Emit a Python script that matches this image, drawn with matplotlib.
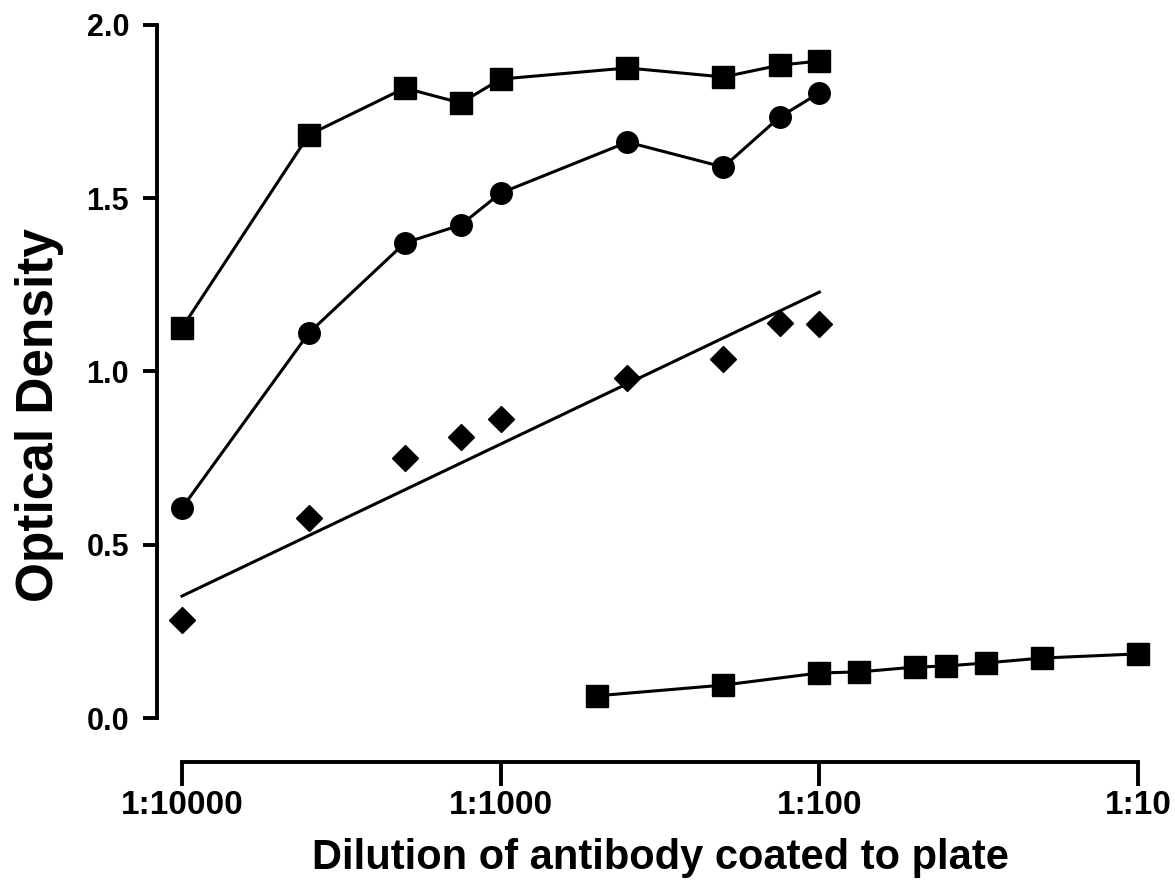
import numpy as np
import matplotlib
matplotlib.use('Agg')
import matplotlib.pyplot as plt

plt.rcParams['font.family'] = ['Liberation Sans', 'DejaVu Sans']
plt.rcParams['font.weight'] = 'bold'

# antibody concentration (fraction), 1:10000 ... 1:100
conc = [1e-4, 2.5e-4, 5e-4, 7.5e-4, 1e-3, 2.5e-3, 5e-3, 7.5e-3, 1e-2]
od_squares = [1.126, 1.683, 1.818, 1.775, 1.844, 1.876, 1.850, 1.884, 1.896]
od_circles = [0.606, 1.111, 1.371, 1.423, 1.515, 1.662, 1.590, 1.734, 1.804]
od_diamonds = [0.283, 0.577, 0.750, 0.811, 0.863, 0.981, 1.036, 1.140, 1.137]
# straight line drawn through the diamonds (ends)
fit_conc = [1e-4, 1e-2]
fit_od = [0.352, 1.229]

# low series, 1:500 ... 1:10
conc_low = [2e-3, 5e-3, 1e-2, 1.333e-2, 2e-2, 2.5e-2, 3.333e-2, 5e-2, 1e-1]
od_low = [0.064, 0.095, 0.130, 0.133, 0.147, 0.150, 0.159, 0.173, 0.185]

xticks = [1e-4, 1e-3, 1e-2, 1e-1]
xticklabels = ['1:10000', '1:1000', '1:100', '1:10']
yticks = [0.0, 0.5, 1.0, 1.5, 2.0]

fig = plt.figure(figsize=(11.75, 8.96), dpi=100)
ax = fig.add_axes([182/1175, 178/896, 956/1175, 693/896])

lw = 2.2
ms = 15.5
ax.plot(conc, od_squares, '-', color='black', lw=lw, marker='s', ms=ms, clip_on=False)
ax.plot(conc, od_circles, '-', color='black', lw=lw, marker='o', ms=ms, clip_on=False)
ax.plot(conc, od_diamonds, ls='none', color='black', marker='D', ms=13, clip_on=False)
ax.plot(fit_conc, fit_od, '-', color='black', lw=lw, clip_on=False)
ax.plot(conc_low, od_low, '-', color='black', lw=lw, marker='s', ms=ms, clip_on=False)

ax.set_xscale('log')
ax.set_xlim(1e-4, 1e-1)
ax.set_ylim(0, 2.0)
ax.set_xticks(xticks)
ax.set_xticklabels(xticklabels)
ax.xaxis.set_minor_locator(matplotlib.ticker.NullLocator())
ax.set_yticks(yticks)
ax.set_yticklabels(['%.1f' % v for v in yticks])

for s in ['top', 'right']:
    ax.spines[s].set_visible(False)
ax.spines['left'].set_position(('outward', 18))
ax.spines['bottom'].set_position(('outward', 32))
ax.spines['left'].set_linewidth(2.8)
ax.spines['bottom'].set_linewidth(2.8)

ax.tick_params(axis='x', length=17, width=2.8, pad=3, labelsize=24)
ax.tick_params(axis='y', length=10, width=2.8, pad=10, labelsize=22)

ax.set_xlabel('Dilution of antibody coated to plate', fontsize=30,
              fontweight='bold', labelpad=12)
ax.set_ylabel('Optical Density', fontsize=37, fontweight='bold')
ax.yaxis.set_label_coords(-0.123, 0.437)

fig.savefig('out.png', dpi=100)
